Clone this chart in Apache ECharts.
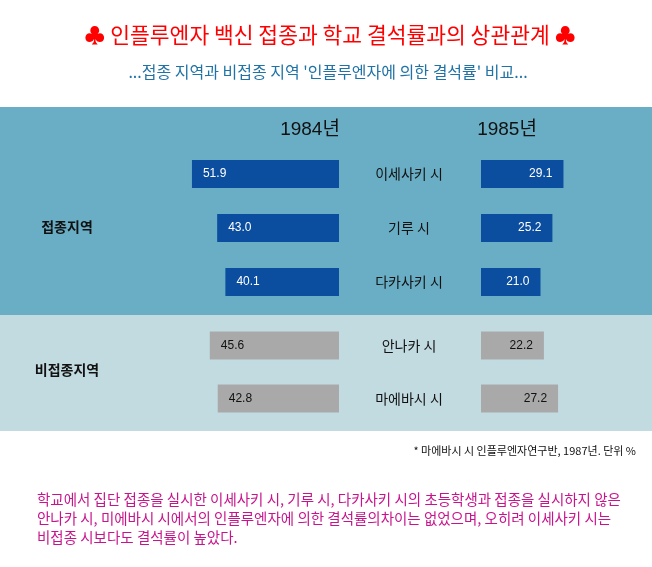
<!DOCTYPE html>
<html><head><meta charset="utf-8">
<script src="https://cdn.jsdelivr.net/npm/echarts@6/dist/echarts.min.js"></script>
<style>html,body{margin:0;padding:0;background:#fff}#c{width:652px;height:567px}</style>
</head><body><div id="c"></div>
<script>
var titleText = '♣ 인플루엔자 백신 접종과 학교 결석률과의 상관관계 ♣';
var subtitleText = "...접종 지역과 비접종 지역 '인플루엔자에 의한 결석률' 비교...";
var years = ['1984년', '1985년'];
var groupNames = ['접종지역', '비접종지역'];
var vacCities = ['이세사키 시', '기루 시', '다카사키 시'];
var vac1984 = [51.9, 43.0, 40.1];
var vac1985 = [29.1, 25.2, 21.0];
var nonCities = ['안나카 시', '마에바시 시'];
var non1984 = [45.6, 42.8];
var non1985 = [22.2, 27.2];
var footnote = '* 마에바시 시 인플루엔자연구반, 1987년. 단위 %';
var bodyLines = [
  '학교에서 집단 접종을 실시한 이세사키 시, 기루 시, 다카사키 시의 초등학생과 접종을 실시하지 않은',
  '안나카 시, 미에바시 시에서의 인플루엔자에 의한 결석률의차이는 없었으며, 오히려 이세사키 시는',
  '비접종 시보다도 결석률이 높았다.'
];

var KR = 'Noto Sans CJK KR';
var MIX = 'Liberation Sans, Noto Sans CJK KR, sans-serif';
var chart = echarts.init(document.getElementById('c'), null, {renderer: 'canvas'});

function xAx(gi, inv) {
  return {gridIndex: gi, type: 'value', min: 0, max: 60, inverse: inv, show: false};
}
function yAx(gi, cats, showLabel) {
  return {gridIndex: gi, type: 'category', data: cats, inverse: true,
    axisLine: {show: false}, axisTick: {show: false}, splitLine: {show: false},
    axisLabel: {show: showLabel, margin: 72, align: 'center', color: '#111',
      fontFamily: KR, fontSize: 14}};
}
function bar(gi, data, color, txtColor, pos) {
  return {type: 'bar', xAxisIndex: gi, yAxisIndex: gi, data: data, barWidth: 28,
    itemStyle: {color: color}, silent: true,
    label: {show: true, position: pos, distance: 11, color: txtColor,
      fontFamily: 'Liberation Sans', fontSize: 12,
      formatter: function (p) { return p.value.toFixed(1); }}};
}
function txt(x, y, s, color, size, family, align, weight) {
  return {type: 'text', x: x, y: y, style: {text: s, fill: color, fontSize: size,
    fontFamily: family, fontWeight: weight || 'normal', textAlign: align, textVerticalAlign: 'middle'}};
}

var option = {
  animation: false,
  grid: [
    {left: 169, width: 170, top: 147, height: 162},
    {left: 481, width: 170, top: 147, height: 162},
    {left: 169, width: 170, top: 319, height: 106},
    {left: 481, width: 170, top: 319, height: 106}
  ],
  xAxis: [xAx(0, true), xAx(1, false), xAx(2, true), xAx(3, false)],
  yAxis: [yAx(0, vacCities, false), yAx(1, vacCities, true), yAx(2, nonCities, false), yAx(3, nonCities, true)],
  series: [
    bar(0, vac1984, '#0B4D9E', '#fff', 'insideLeft'),
    bar(1, vac1985, '#0B4D9E', '#fff', 'insideRight'),
    bar(2, non1984, '#A9A9A9', '#111', 'insideLeft'),
    bar(3, non1985, '#A9A9A9', '#111', 'insideRight')
  ],
  graphic: [
    {type: 'rect', z: -10, shape: {x: 0, y: 107, width: 652, height: 208}, style: {fill: '#69AEC5'}},
    {type: 'rect', z: -10, shape: {x: 0, y: 315, width: 652, height: 116}, style: {fill: '#C2DBE1'}},
    txt(330, 35, titleText, '#FF0000', 21.5, KR, 'center'),
    txt(328, 72, subtitleText, '#1F73A6', 16, KR, 'center'),
    txt(310, 130, years[0], '#111', 19, MIX, 'center'),
    txt(507, 130, years[1], '#111', 19, MIX, 'center'),
    txt(67, 227, groupNames[0], '#111', 14, KR, 'center', 'bold'),
    txt(67, 370, groupNames[1], '#111', 14, KR, 'center', 'bold'),
    txt(636, 451, footnote, '#111', 11, KR, 'right'),
    txt(37, 499, bodyLines[0], '#C8148C', 14.5, KR, 'left'),
    txt(37, 518, bodyLines[1], '#C8148C', 14.5, KR, 'left'),
    txt(37, 537, bodyLines[2], '#C8148C', 14.5, KR, 'left')
  ]
};
chart.setOption(option);
</script></body></html>
